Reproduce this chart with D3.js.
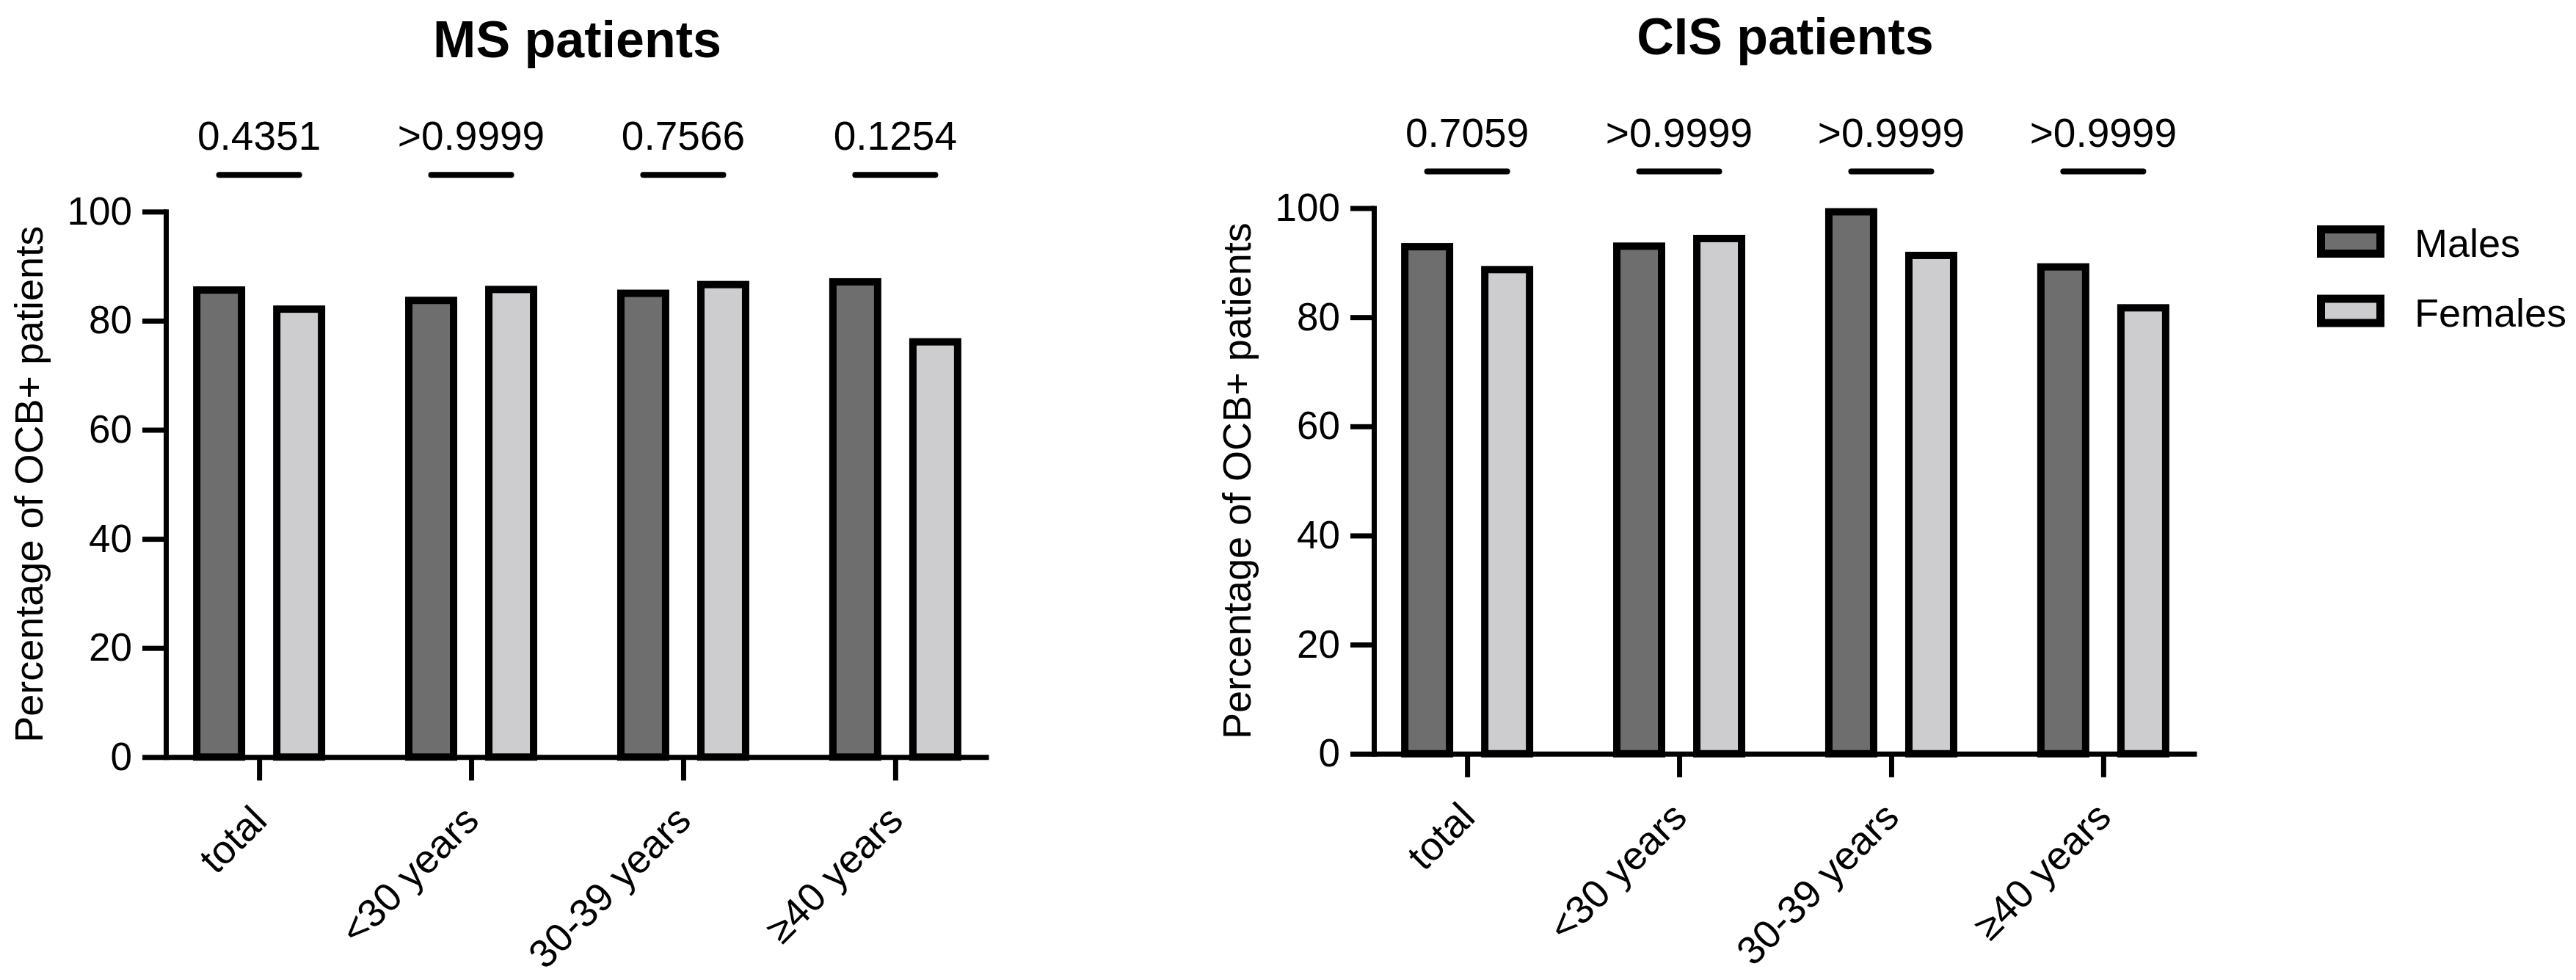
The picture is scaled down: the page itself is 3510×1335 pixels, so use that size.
<!DOCTYPE html>
<html>
<head>
<meta charset="utf-8">
<script src="https://d3js.org/d3.v7.min.js"></script>
<style>
  body { margin: 0; background: #fff; }
  text { font-family: "Liberation Sans", Arial, Helvetica, sans-serif; fill: #000; }
  .axis path, .axis line { stroke: #000; stroke-width: 7; }
  .axis text { font-size: 53px; }
</style>
</head>
<body>
<svg id="chart" width="3510" height="1335"></svg>
<script>
// data
const categories = ["total", "<30 years", "30-39 years", "≥40 years"];
const groups = ["Males", "Females"];
const msMales = [86.3, 84.4, 85.7, 87.8];
const msFemales = [82.8, 86.4, 87.3, 76.8];
const cisMales = [93.6, 93.7, 100, 89.9];
const cisFemales = [89.4, 95.1, 92.0, 82.4];
const msPValues = ["0.4351", ">0.9999", "0.7566", "0.1254"];
const cisPValues = ["0.7059", ">0.9999", ">0.9999", ">0.9999"];
const yTicks = [0, 20, 40, 60, 80, 100];

const colors = {Males: "#6e6e6e", Females: "#cdcdcf"};
const barStroke = 10;

const svg = d3.select("svg#chart");

function drawPanel(title, males, females, pvals, left, top, bottom) {
    const right = left + 1121;
    const g = svg.append("g");

    const xScale = d3.scalePoint().domain(categories).range([left, right]).padding(0.44);
    const x1 = d3.scaleBand().domain(groups).range([-90, 90]).paddingInner(0.349);
    const yScale = d3.scaleLinear().domain([0, 100]).range([bottom, top]);

    // bars (outer edge of the outline sits on the value)
    const rows = [];
    categories.forEach((c, i) => {
        rows.push({cat: c, grp: "Males", v: males[i]});
        rows.push({cat: c, grp: "Females", v: females[i]});
    });
    g.selectAll("rect.bar").data(rows).join("rect")
        .attr("class", "bar")
        .attr("x", d => xScale(d.cat) + x1(d.grp) + barStroke / 2)
        .attr("y", d => yScale(d.v) + barStroke / 2)
        .attr("width", x1.bandwidth() - barStroke)
        .attr("height", d => yScale(0) - yScale(d.v) - barStroke / 2)
        .attr("fill", d => colors[d.grp])
        .attr("stroke", "#000")
        .attr("stroke-width", barStroke);

    // y axis
    const leftAxis = d3.axisLeft(yScale).tickValues(yTicks).tickSize(32).tickSizeOuter(0).tickPadding(14);
    const ya = g.append("g").attr("class", "axis")
        .attr("transform", `translate(${left},0)`)
        .call(leftAxis);
    ya.select(".domain").attr("stroke-linecap", "square");

    // x axis
    const bottomAxis = d3.axisBottom(xScale).tickSize(32).tickSizeOuter(0).tickFormat("");
    g.append("g").attr("class", "axis")
        .attr("transform", `translate(0,${bottom})`)
        .call(bottomAxis);

    g.selectAll("text.xlab").data(categories).join("text")
        .attr("class", "xlab")
        .attr("transform", d => `translate(${xScale(d)},${bottom + 76}) rotate(-45)`)
        .attr("text-anchor", "end")
        .attr("dy", "0.35em")
        .style("font-size", "54px")
        .text(d => d);

    // y title
    g.append("text")
        .attr("transform", `translate(${left - 168},${(top + bottom) / 2}) rotate(-90)`)
        .attr("text-anchor", "middle")
        .style("font-size", "54px")
        .text("Percentage of OCB+ patients");

    // title
    g.append("text")
        .attr("x", (left + right) / 2)
        .attr("y", top - 210)
        .attr("text-anchor", "middle")
        .style("font-size", "70px")
        .style("font-weight", "bold")
        .text(title);

    // p values with brackets
    g.selectAll("line.bracket").data(categories).join("line")
        .attr("class", "bracket")
        .attr("x1", d => xScale(d) + x1("Males") + x1.bandwidth() / 2)
        .attr("x2", d => xScale(d) + x1("Females") + x1.bandwidth() / 2)
        .attr("y1", top - 50).attr("y2", top - 50)
        .attr("stroke", "#000").attr("stroke-width", 8).attr("stroke-linecap", "round");
    g.selectAll("text.pval").data(categories).join("text")
        .attr("class", "pval")
        .attr("x", d => xScale(d))
        .attr("y", top - 84)
        .attr("text-anchor", "middle")
        .style("font-size", "55px")
        .text((d, i) => pvals[i]);
}

drawPanel("MS patients", msMales, msFemales, msPValues, 226, 288.3, 1031.3);
drawPanel("CIS patients", cisMales, cisFemales, cisPValues, 1872, 283.5, 1026.8);

// legend
const legend = svg.append("g").attr("transform", "translate(3157,307)");
groups.forEach((grp, i) => {
    const row = legend.append("g").attr("transform", `translate(0,${i * 94.5})`);
    row.append("rect")
        .attr("x", 5.5).attr("y", 5.5)
        .attr("width", 81).attr("height", 33)
        .attr("fill", colors[grp])
        .attr("stroke", "#000").attr("stroke-width", 11);
    row.append("text")
        .attr("x", 133)
        .attr("y", 43)
        .style("font-size", "54px")
        .text(grp);
});
</script>
</body>
</html>
